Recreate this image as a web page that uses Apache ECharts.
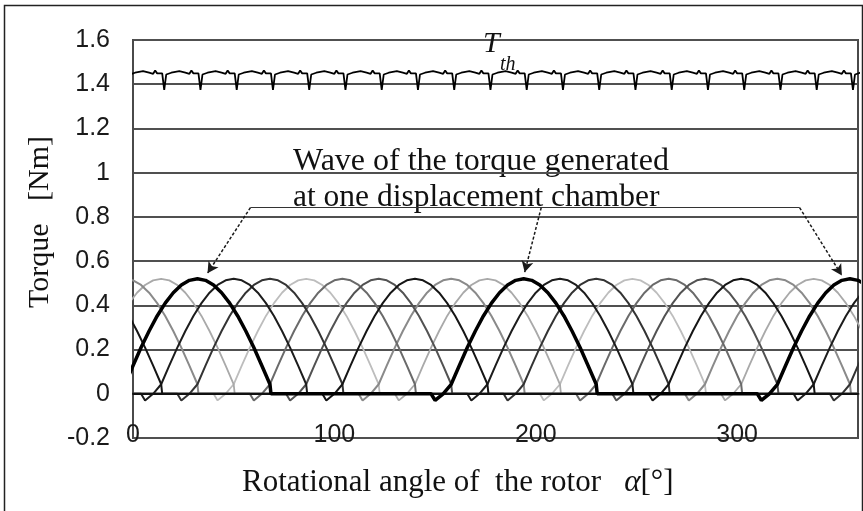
<!DOCTYPE html>
<html><head><meta charset="utf-8">
<script src="https://cdn.jsdelivr.net/npm/echarts@6/dist/echarts.min.js"></script>
<style>html,body{margin:0;padding:0;background:#fff}#c{width:863px;height:511px}</style>
</head><body><div id="c"></div>
<script>
// ---- axis ticks ----
const yMin = -0.2, yMax = 1.6, yStep = 0.2;
const xMin = 0, xMax = 360, xStep = 100;

// ---- torque wave of each displacement chamber: peak angles ----
const chamberPeaks = [
  [32, 194, 356],     // highlighted chamber (bold)
  [50, 212, 374],
  [68, 230, 392],
  [86, 248],
  [104, 266],
  [122, 284],
  [-22, 140, 302],
  [-4, 158, 320],
  [14, 176, 338]
];
const chamberColors = ['#000000', '#1c1c1c', '#333333', '#bdbdbd', '#6a6a6a', '#525252', '#151515', '#8a8a8a', '#a9a9a9'];
const chamberWidths = [3.5, 2, 2, 1.8, 2, 2, 2, 2, 1.8];

// one hump: angle offset from the peak [deg] and torque [Nm]
const humpOffsets = [-46, -44, -40, -36, -32, -28, -24, -20, -16, -12, -8, -4, 0, 4, 8, 12, 16, 20, 24, 28, 32, 36, 36.5];
const humpValues  = [0, -0.03, 0, 0.043, 0.127, 0.209, 0.284, 0.352, 0.41, 0.457, 0.492, 0.513, 0.52, 0.513, 0.492, 0.457, 0.41, 0.352, 0.284, 0.209, 0.127, 0.043, 0];

// ---- total torque T_th: one ripple period ----
const thOffsets = [0, 0.5, 1.5, 4, 8, 11, 13, 14, 15, 17.5];
const thValues  = [1.449, 1.374, 1.444, 1.452, 1.459, 1.452, 1.447, 1.462, 1.449, 1.449];
const thPeriodStarts = [-3, 15, 33, 51, 69, 87, 105, 123, 141, 159, 177, 195, 213, 231, 249, 267, 285, 303, 321, 339, 357];

// ---- annotation leader (angle, torque) ----
const leaderStart = [58.3, 0.842], leaderEnd = [331, 0.842];
const arrowFrom = [[58.3, 0.842], [202.7, 0.842], [331, 0.842]];
const arrowTo   = [[37, 0.545], [194.5, 0.55], [352, 0.535]];

const SERIF = '"Liberation Serif","Times New Roman",serif';
const SANS = '"Liberation Sans",Arial,sans-serif';

function chamberData(peaks) {
  const pts = [[-100, 0]];
  peaks.forEach(p => humpOffsets.forEach((d, i) => pts.push([p + d, humpValues[i]])));
  pts.push([460, 0]);
  return pts;
}
function thData() {
  const pts = [];
  thPeriodStarts.forEach(s => thOffsets.forEach((d, i) => pts.push([s + d, thValues[i]])));
  return pts;
}

const series = [];
// draw lighter chambers first, bold last
const order = [3, 8, 7, 4, 5, 2, 1, 6, 0];
order.forEach(c => {
  series.push({
    type: 'line', name: 'Chamber ' + (c + 1), data: chamberData(chamberPeaks[c]),
    showSymbol: false, symbol: 'none', clip: true, animation: false, silent: true,
    lineStyle: { color: chamberColors[c], width: chamberWidths[c] },
    z: c === 0 ? 5 : 3
  });
});
series.push({
  type: 'line', name: 'T_th', data: thData(), showSymbol: false, symbol: 'none',
  clip: true, animation: false, silent: true, z: 4,
  lineStyle: { color: '#000', width: 1.8 },
  markLine: {
    silent: true, animation: false, label: { show: false },
    lineStyle: { color: '#1a1a1a', width: 1.5, type: [3, 2] },
    symbol: ['none', 'arrow'], symbolSize: [9, 11],
    data: [
      [{ coord: leaderStart, symbol: 'none', lineStyle: { type: 'solid', width: 1.2, color: '#333' } },
       { coord: leaderEnd, symbol: 'none' }],
      ...arrowFrom.map((f, i) => [{ coord: f }, { coord: arrowTo[i] }]),
      [{ coord: [xMin, 0], symbol: 'none', lineStyle: { type: 'solid', color: '#111', width: 2 } },
       { coord: [xMax, 0], symbol: 'none' }]
    ]
  }
});

const chart = echarts.init(document.getElementById('c'), null, { renderer: 'canvas' });
chart.setOption({
  animation: false,
  backgroundColor: '#fff',
  grid: { left: 133, right: 5, top: 40, bottom: 73, show: true, borderColor: '#4a4a4a', borderWidth: 2 },
  xAxis: {
    type: 'value', min: xMin, max: xMax, interval: xStep,
    axisLine: { show: true, lineStyle: { color: '#4a4a4a', width: 2 } },
    axisTick: { show: false },
    splitLine: { show: false },
    axisLabel: { inside: true, margin: -10, showMaxLabel: false, color: '#1a1a1a', fontFamily: SANS, fontSize: 25 }
  },
  yAxis: {
    type: 'value', min: yMin, max: yMax, interval: yStep,
    axisLine: { show: true, lineStyle: { color: '#4a4a4a', width: 2 } },
    axisTick: { show: false },
    splitLine: { show: true, lineStyle: { color: '#505050', width: 2 } },
    axisLabel: { margin: 23, color: '#1a1a1a', fontFamily: SANS, fontSize: 25,
      formatter: v => String(Math.round(v * 10) / 10) }
  },
  series: series,
  graphic: [
    { type: 'rect', silent: true, z: 0, shape: { x: 4.5, y: 5.5, width: 858, height: 510 },
      style: { fill: 'none', stroke: '#222', lineWidth: 1.5 } },
    { type: 'text', silent: true, x: 40, y: 222, rotation: Math.PI / 2,
      style: { text: 'Torque   [Nm]', font: '30px ' + SERIF, fill: '#111', align: 'center', verticalAlign: 'middle' } },
    { type: 'text', silent: true, x: 242, y: 483,
      style: { text: '{a|Rotational angle of  the rotor   }{b|α}{a|[°]}', align: 'left', verticalAlign: 'middle',
        rich: { a: { font: '31px ' + SERIF, fill: '#111' }, b: { font: 'italic 31px ' + SERIF, fill: '#111' } } } },
    { type: 'text', silent: true, x: 293, y: 162,
      style: { text: 'Wave of the torque generated', font: '32px ' + SERIF, fill: '#111', align: 'left', verticalAlign: 'middle' } },
    { type: 'text', silent: true, x: 293, y: 198,
      style: { text: 'at one displacement chamber', font: '31.5px ' + SERIF, fill: '#111', align: 'left', verticalAlign: 'middle' } },
    { type: 'text', silent: true, x: 483, y: 44, z: 10,
      style: { text: 'T', font: 'italic 30px ' + SERIF, fill: '#111', align: 'left', verticalAlign: 'middle' } },
    { type: 'text', silent: true, x: 500, y: 65, z: 10,
      style: { text: 'th', font: 'italic 20px ' + SERIF, fill: '#111', align: 'left', verticalAlign: 'middle' } }
  ]
});
</script>
</body></html>
